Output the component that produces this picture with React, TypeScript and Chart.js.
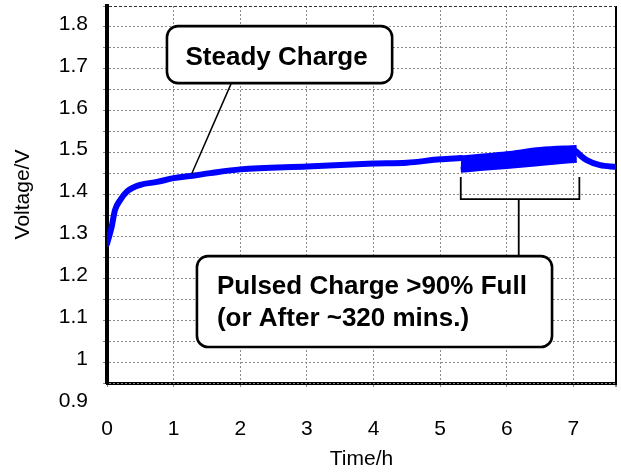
import React, { useEffect, useRef } from 'react';
import { Chart, registerables } from 'chart.js';

Chart.register(...registerables);

// ---- data (hours, volts) ----
const steadyHours = [0, 0.07, 0.12, 0.2, 0.3, 0.5, 0.75, 1.0, 1.25, 1.55, 2.0, 3.0, 4.0, 4.5, 5.0, 5.31];
const steadyVolts = [1.232, 1.273, 1.313, 1.337, 1.357, 1.373, 1.38, 1.389, 1.394, 1.401, 1.41, 1.417, 1.424, 1.426, 1.434, 1.437];

const bandHours = [5.31, 5.6, 6.0, 6.5, 7.05];
const bandUpper = [1.436, 1.44, 1.446, 1.456, 1.461];
const bandLower = [1.409, 1.413, 1.418, 1.425, 1.433];

const tailHours = [7.05, 7.1, 7.2, 7.4, 7.64];
const tailVolts = [1.452, 1.444, 1.432, 1.42, 1.416];

const xTickValues = [0, 1, 2, 3, 4, 5, 6, 7];
const xTickLabels = ['0', '1', '2', '3', '4', '5', '6', '7'];
const yTickLabels = ['0.9', '1', '1.1', '1.2', '1.3', '1.4', '1.5', '1.6', '1.7', '1.8'];
const xMin = 0;
const xMax = 7.64;
const yMin = 0.9;
const yMax = 1.8;
const yGridStep = 0.05;

const steadyText = ['Steady Charge'];
const pulsedText = ['Pulsed Charge >90% Full', '(or After ~320 mins.)'];

// annotation placement in data units
const steadyBox = { x0: 0.9, x1: 4.28, y0: 1.752, y1: 1.616 };
const steadyLeader = { x0: 1.87, y0: 1.617, x1: 1.27, y1: 1.399 };
const pulsedBox = { x0: 1.35, x1: 6.68, y0: 1.203, y1: 0.986 };
const bracket = { x0: 5.31, x1: 7.09, yTop: 1.392, yBar: 1.339, stemX: 6.18, stemY: 1.203 };

const FONT = 'Liberation Sans, Arial, Helvetica, sans-serif';
const BLUE = '#0000ff';
const GRID = '#8a8a8a';

function pts(xs: number[], ys: number[]) {
  return xs.map((x, i) => ({ x, y: ys[i] }));
}

function roundRect(ctx: CanvasRenderingContext2D, x: number, y: number, w: number, h: number, r: number) {
  ctx.beginPath();
  ctx.moveTo(x + r, y);
  ctx.arcTo(x + w, y, x + w, y + h, r);
  ctx.arcTo(x + w, y + h, x, y + h, r);
  ctx.arcTo(x, y + h, x, y, r);
  ctx.arcTo(x, y, x + w, y, r);
  ctx.closePath();
}

const annotationPlugin = {
  id: 'callouts',
  afterDraw(chart: any) {
    const { ctx } = chart;
    const xs = chart.scales.x;
    const ys = chart.scales.y;
    const px = (v: number) => xs.getPixelForValue(v);
    const py = (v: number) => ys.getPixelForValue(v);
    ctx.save();
    ctx.strokeStyle = '#000';
    ctx.lineWidth = 1.5;
    ctx.setLineDash([]);
    // leader line
    ctx.beginPath();
    ctx.moveTo(px(steadyLeader.x0), py(steadyLeader.y0));
    ctx.lineTo(px(steadyLeader.x1), py(steadyLeader.y1));
    ctx.stroke();
    // bracket
    ctx.lineWidth = 1.8;
    ctx.beginPath();
    ctx.moveTo(px(bracket.x0), py(bracket.yTop));
    ctx.lineTo(px(bracket.x0), py(bracket.yBar));
    ctx.lineTo(px(bracket.x1), py(bracket.yBar));
    ctx.lineTo(px(bracket.x1), py(bracket.yTop));
    ctx.moveTo(px(bracket.stemX), py(bracket.yBar));
    ctx.lineTo(px(bracket.stemX), py(bracket.stemY));
    ctx.stroke();

    // boxes
    const drawBox = (b: any) => {
      const x = px(b.x0), y = py(b.y0);
      const w = px(b.x1) - x, h = py(b.y1) - y;
      roundRect(ctx, x, y, w, h, 11);
      ctx.fillStyle = '#fff';
      ctx.fill();
      ctx.lineWidth = 2.6;
      ctx.strokeStyle = '#000';
      ctx.stroke();
      return { x, y, w, h };
    };
    ctx.font = `bold 26px ${FONT}`;
    const s = drawBox(steadyBox);
    ctx.fillStyle = '#000';
    ctx.textAlign = 'center';
    ctx.textBaseline = 'alphabetic';
    ctx.fillText(steadyText[0], s.x + s.w / 2 - 3, s.y + s.h / 2 + 10);

    const p = drawBox(pulsedBox);
    ctx.fillStyle = '#000';
    ctx.textAlign = 'left';
    pulsedText.forEach((t, i) => {
      ctx.fillText(t, p.x + 20, p.y + 38 + i * 32);
    });
    ctx.restore();
  },
};

export default function App() {
  const ref = useRef<HTMLCanvasElement>(null);
  useEffect(() => {
    document.body.style.margin = '0';
    const line = { borderColor: BLUE, backgroundColor: BLUE, borderWidth: 6, pointRadius: 0, cubicInterpolationMode: 'monotone' as const, borderCapStyle: 'round' as const, borderJoinStyle: 'round' as const };
    const chart = new Chart(ref.current as HTMLCanvasElement, {
      type: 'line',
      data: {
        datasets: [
          { label: 'Pulsed (upper)', data: pts(bandHours, bandUpper), fill: false, ...line, borderCapStyle: 'butt' },
          { label: 'Pulsed (lower)', data: pts(bandHours, bandLower), fill: '-1', ...line, borderCapStyle: 'butt' },
          { label: 'Steady', data: pts(steadyHours, steadyVolts), fill: false, ...line },
          { label: 'After pulse', data: pts(tailHours, tailVolts), fill: false, ...line },
        ],
      },
      options: {
        responsive: false,
        animation: false,
        devicePixelRatio: 1,
        layout: { padding: { top: 6, right: 5, left: 0, bottom: 0 } },
        plugins: { legend: { display: false }, tooltip: { enabled: false } },
        scales: {
          x: {
            type: 'linear',
            min: xMin,
            max: xMax,
            afterBuildTicks: (s: any) => {
              s.ticks = [...xTickValues.map((v) => ({ value: v })), { value: xMax }];
            },
            afterFit: (s: any) => {
              s.height = 92;
              s.paddingLeft = 0;
              s.paddingRight = 0;
            },
            ticks: {
              autoSkip: false,
              maxRotation: 0,
              padding: 30,
              color: '#000',
              font: { family: FONT, size: 21 },
              callback: (_v: any, i: number) => (i < xTickLabels.length ? xTickLabels[i] : ''),
            },
            grid: {
              color: (c: any) => (c.index === xTickValues.length ? '#000' : GRID),
              lineWidth: (c: any) => (c.index === xTickValues.length ? 2 : 1),
              drawTicks: true,
              tickLength: 4,
              tickColor: GRID,
            },
            border: {
              display: true,
              color: '#000',
              width: 3,
              z: -1,
              dash: (c: any) => (c.index === xTickValues.length ? [] : [2, 2]),
            },
            title: { display: true, text: 'Time/h', color: '#000', font: { family: FONT, size: 21 }, padding: { top: 0, bottom: 3 } },
          },
          y: {
            type: 'linear',
            min: yMin,
            max: yMax,
            afterBuildTicks: (s: any) => {
              const n = Math.round((yMax - yMin) / yGridStep);
              const t = [];
              for (let i = 0; i <= n; i++) t.push({ value: +(yMin + i * yGridStep).toFixed(3) });
              s.ticks = t;
            },
            afterFit: (s: any) => {
              s.width = 107;
              s.paddingTop = 0;
              s.paddingBottom = 0;
            },
            ticks: {
              autoSkip: false,
              padding: 15,
              labelOffset: 18,
              color: '#000',
              font: { family: FONT, size: 21 },
              callback: (_v: any, i: number) => (i % 2 === 0 ? yTickLabels[i / 2] : ''),
            },
            grid: {
              color: (c: any) => (c.index === 18 ? '#333' : GRID),
              lineWidth: 1,
              drawTicks: true,
              tickLength: 4,
              tickColor: GRID,
            },
            border: {
              display: true,
              color: '#000',
              width: 4,
              z: -1,
              dash: (c: any) => (c.index === 18 ? [3, 2] : [2, 2]),
            },
            title: { display: true, text: 'Voltage/V', color: '#000', font: { family: FONT, size: 21 }, padding: { top: 11, bottom: 0 } },
          },
        },
      },
      plugins: [annotationPlugin],
    } as any);
    return () => chart.destroy();
  }, []);
  return (
    <div style={{ position: 'fixed', left: 0, top: 0, width: 621, height: 475, background: '#fff' }}>
      <canvas ref={ref} width={621} height={475} style={{ width: 621, height: 475, display: 'block' }} />
    </div>
  );
}
